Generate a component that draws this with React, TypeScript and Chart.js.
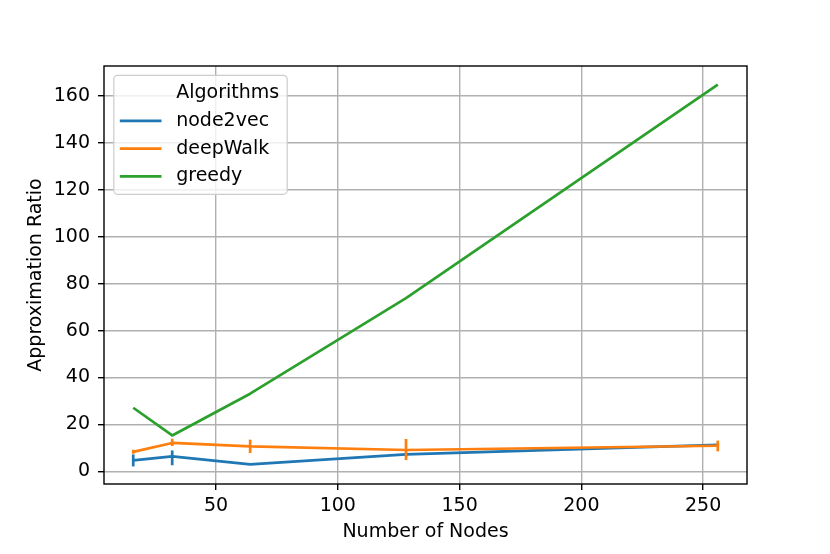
import { useEffect, useRef } from "react";
import { Chart, registerables } from "chart.js";

Chart.register(...registerables);

// x values (number of nodes)
const nodeCounts = [16, 32, 64, 128, 256];

// mean approximation ratio per algorithm, with the error bar ends
const node2vecRatio = [4.7, 6.4, 3.0, 7.2, 11.3];
const node2vecLow = [2.1, 2.6, 3.0, 6.5, 10.8];
const node2vecHigh = [7.2, 8.9, 3.0, 7.9, 11.8];

const deepWalkRatio = [8.3, 12.1, 10.6, 9.1, 10.9];
const deepWalkLow = [7.5, 10.8, 7.8, 4.8, 8.5];
const deepWalkHigh = [9.2, 13.9, 13.5, 13.8, 13.1];

const greedyRatio = [27.1, 15.3, 33.1, 73.8, 164.9];

const seriesNames = ["node2vec", "deepWalk", "greedy"];
const seriesColors = ["#1f77b4", "#ff7f0e", "#2ca02c"];
const legendTitle = "Algorithms";

const xTicks = [50, 100, 150, 200, 250];
const yTicks = [0, 20, 40, 60, 80, 100, 120, 140, 160];

const FONT = "DejaVu Sans";
const FONT_SIZE = 19;
const LINE_W = 2.7;

const errorBars = [
  [node2vecLow, node2vecHigh],
  [deepWalkLow, deepWalkHigh],
  null,
];

const errorBarPlugin = {
  id: "errorBars",
  afterDatasetDraw(chart: any, args: any) {
    const bars = errorBars[args.index];
    if (!bars) return;
    const { ctx, scales } = chart;
    const [low, high] = bars;
    ctx.save();
    ctx.strokeStyle = seriesColors[args.index];
    ctx.lineWidth = LINE_W;
    ctx.lineCap = "butt";
    nodeCounts.forEach((n, i) => {
      if (high[i] - low[i] < 0.05) return;
      const x = scales.x.getPixelForValue(n);
      ctx.beginPath();
      ctx.moveTo(x, scales.y.getPixelForValue(low[i]));
      ctx.lineTo(x, scales.y.getPixelForValue(high[i]));
      ctx.stroke();
    });
    ctx.restore();
  },
};

const framePlugin = {
  id: "frame",
  afterDatasetsDraw(chart: any) {
    const { ctx, chartArea: a } = chart;
    ctx.save();
    ctx.strokeStyle = "#000";
    ctx.lineWidth = 1.4;
    ctx.strokeRect(a.left, a.top, a.right - a.left, a.bottom - a.top);
    ctx.restore();
  },
  afterDraw(chart: any) {
    // matplotlib-style legend box in the upper left of the axes
    const { ctx, chartArea: a } = chart;
    const left = a.left + 9.8;
    const top = a.top + 9.3;
    const w = 173.4;
    const h = 119;
    ctx.save();
    ctx.beginPath();
    ctx.roundRect(left, top, w, h, 4);
    ctx.fillStyle = "rgba(255,255,255,0.8)";
    ctx.fill();
    ctx.strokeStyle = "#cccccc";
    ctx.lineWidth = 1.2;
    ctx.stroke();

    ctx.font = `${FONT_SIZE}px "${FONT}"`;
    ctx.fillStyle = "#000";
    ctx.textBaseline = "middle";
    ctx.textAlign = "left";
    const rowStep = 27.8;
    const firstRow = top + 17.7;
    ctx.fillText(legendTitle, left + 62.4, firstRow);
    seriesNames.forEach((name, i) => {
      const y = firstRow + rowStep * (i + 1);
      ctx.strokeStyle = seriesColors[i];
      ctx.lineWidth = LINE_W;
      ctx.beginPath();
      ctx.moveTo(left + 6, y);
      ctx.lineTo(left + 47.7, y);
      ctx.stroke();
      ctx.fillText(name, left + 62.4, y);
    });
    ctx.restore();
  },
};

export default function App() {
  const canvasRef = useRef<HTMLCanvasElement>(null);

  useEffect(() => {
    document.body.style.margin = "0";
    const values = [node2vecRatio, deepWalkRatio, greedyRatio];

    const chart = new Chart(canvasRef.current!, {
      type: "line",
      data: {
        datasets: values.map((vals, i) => ({
          label: seriesNames[i],
          data: nodeCounts.map((n, j) => ({ x: n, y: vals[j] })),
          borderColor: seriesColors[i],
          backgroundColor: seriesColors[i],
          borderWidth: LINE_W,
          pointRadius: 0,
          tension: 0,
          borderJoinStyle: "round" as const,
          order: 3 - i,
        })),
      },
      options: {
        animation: false,
        responsive: false,
        devicePixelRatio: 1,
        layout: { padding: { left: 0, top: 66, right: 83, bottom: 0 } },
        plugins: {
          legend: { display: false },
          tooltip: { enabled: false },
        },
        scales: {
          x: {
            type: "linear",
            min: 4,
            max: 268,
            afterBuildTicks: (scale: any) => {
              scale.ticks = xTicks.map((v) => ({ value: v }));
            },
            afterFit: (scale: any) => {
              scale.height = 70;
            },
            grid: {
              color: "#b0b0b0",
              lineWidth: 1.4,
              tickColor: "#000",
              tickLength: 6,
              tickWidth: 1.4,
            },
            border: { display: false },
            ticks: {
              color: "#000",
              font: { family: FONT, size: FONT_SIZE },
              padding: 5,
              maxRotation: 0,
              autoSkip: false,
            },
            title: {
              display: true,
              text: "Number of Nodes",
              color: "#000",
              font: { family: FONT, size: FONT_SIZE },
              padding: { top: 0, bottom: 10.5 },
            },
          },
          y: {
            type: "linear",
            min: -5.4,
            max: 172.8,
            afterBuildTicks: (scale: any) => {
              scale.ticks = yTicks.map((v) => ({ value: v }));
            },
            afterFit: (scale: any) => {
              scale.width = 104;
            },
            grid: {
              color: "#b0b0b0",
              lineWidth: 1.4,
              tickColor: "#000",
              tickLength: 6,
              tickWidth: 1.4,
            },
            border: { display: false },
            ticks: {
              color: "#000",
              font: { family: FONT, size: FONT_SIZE },
              padding: 8,
            },
            title: {
              display: true,
              text: "Approximation Ratio",
              color: "#000",
              font: { family: FONT, size: FONT_SIZE },
              padding: { top: 24.5, bottom: 0 },
            },
          },
        },
      },
      plugins: [errorBarPlugin, framePlugin],
    });

    return () => chart.destroy();
  }, []);

  return (
    <div style={{ width: 830, height: 554, background: "#fff" }}>
      <canvas ref={canvasRef} width={830} height={554}></canvas>
    </div>
  );
}
